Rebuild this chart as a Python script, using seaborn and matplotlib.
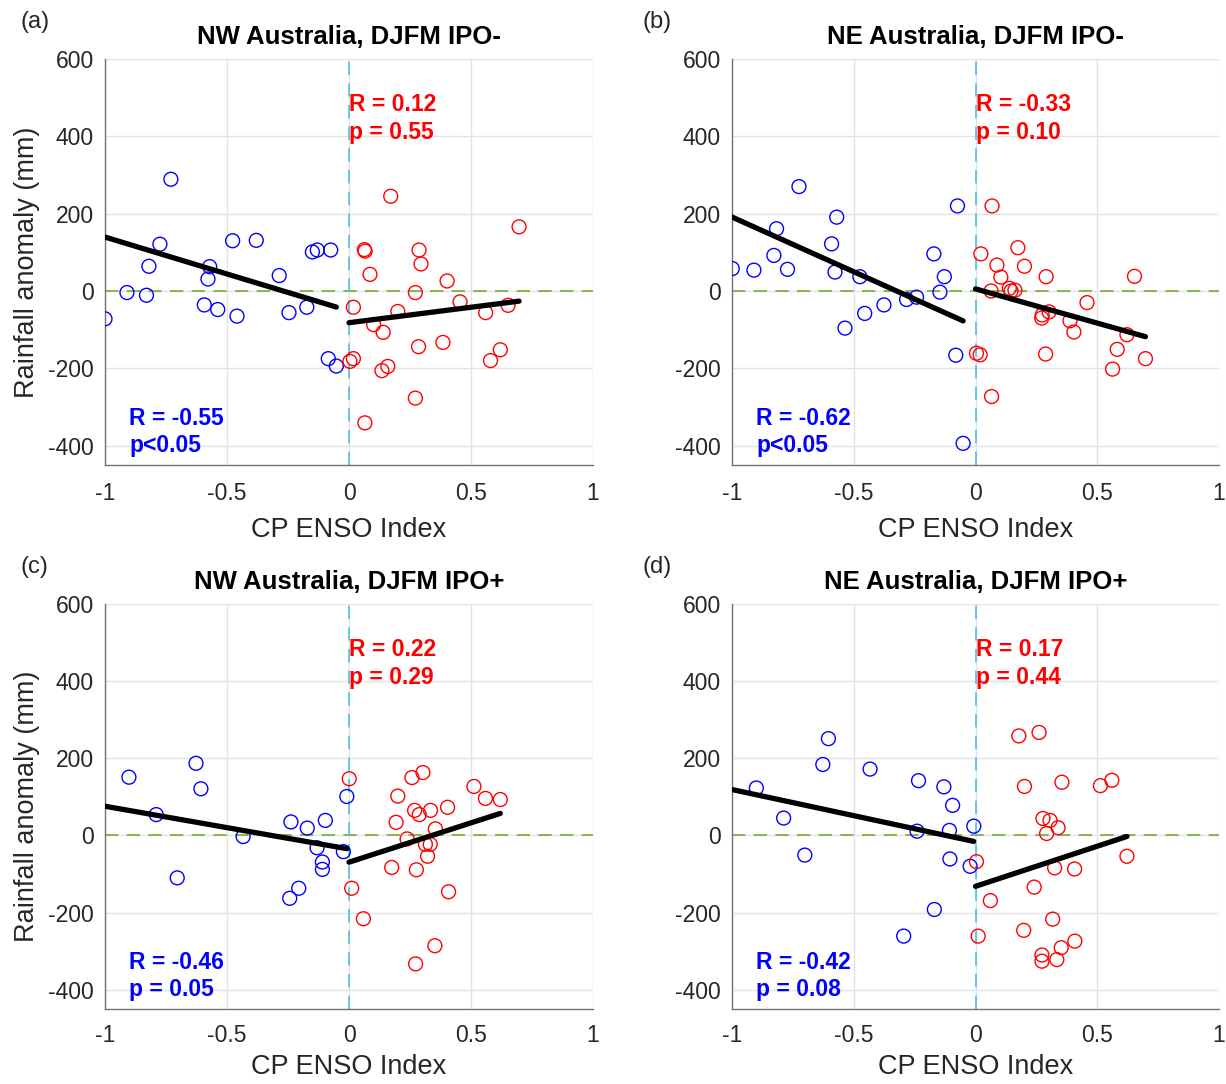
import numpy as np
import pandas as pd
import matplotlib
matplotlib.use("Agg")
import matplotlib.pyplot as plt
import seaborn as sns

sns.set_style("white")
plt.rcParams['font.family'] = ['Liberation Sans', 'DejaVu Sans']
plt.rcParams['axes.unicode_minus'] = False

# ---------------- data ----------------
# (a) NW Australia, DJFM IPO-
a_neg_x = [-1.0, -0.91, -0.83, -0.82, -0.775, -0.73, -0.571, -0.578, -0.593, -0.538, -0.477,
           -0.459, -0.38, -0.286, -0.246, -0.173, -0.15, -0.13, -0.075, -0.085, -0.052]
a_neg_y = [-72, -4, -11, 64, 121, 289, 63, 31, -36, -48, 130,
           -65, 131, 40, -56, -42, 101, 106, 106, -175, -194]
a_pos_x = [0.171, 0.697, 0.063, 0.066, 0.287, 0.295, 0.086, 0.402, 0.272, 0.018, 0.2, 0.455, 0.56,
           0.652, 0.101, 0.14, 0.285, 0.385, 0.62, 0.58, 0.018, 0.004, 0.159, 0.135, 0.272, 0.065]
a_pos_y = [245, 166, 107, 103, 106, 70, 43, 26, -4, -42, -53, -28, -56,
           -37, -87, -107, -144, -133, -152, -180, -175, -182, -195, -206, -277, -341]

# (b) NE Australia, DJFM IPO-
b_neg_x = [-0.999, -0.91, -0.828, -0.817, -0.772, -0.725, -0.591, -0.57, -0.577, -0.536, -0.475,
           -0.455, -0.376, -0.283, -0.242, -0.171, -0.128, -0.146, -0.074, -0.081, -0.051]
b_neg_y = [58, 54, 92, 161, 56, 270, 122, 191, 49, -96, 37,
           -58, -36, -22, -16, 96, 37, -3, 220, -166, -394]
b_pos_x = [0.068, 0.022, 0.174, 0.088, 0.201, 0.104, 0.29, 0.653, 0.064, 0.139, 0.146, 0.162, 0.458,
           0.302, 0.274, 0.272, 0.388, 0.404, 0.622, 0.004, 0.019, 0.288, 0.582, 0.698, 0.563, 0.066]
b_pos_y = [220, 96, 112, 67, 64, 36, 37, 38, 0, 7, 0, 2, -30,
           -54, -62, -70, -77, -106, -113, -161, -165, -163, -151, -175, -202, -273]

# (c) NW Australia, DJFM IPO+
c_neg_x = [-0.902, -0.627, -0.607, -0.79, -0.434, -0.704, -0.238, -0.171,
           -0.097, -0.131, -0.109, -0.109, -0.009, -0.023, -0.206, -0.243]
c_neg_y = [151, 187, 121, 54, -3, -110, 35, 19,
           39, -32, -69, -88, 101, -42, -137, -163]
c_pos_x = [0.001, 0.303, 0.258, 0.512, 0.2, 0.559, 0.62, 0.269, 0.288, 0.334, 0.404, 0.193,
           0.354, 0.238, 0.313, 0.333, 0.322, 0.175, 0.276, 0.011, 0.408, 0.059, 0.352, 0.273]
c_pos_y = [147, 163, 150, 127, 102, 96, 93, 65, 54, 65, 73, 34,
           17, -9, -23, -23, -54, -83, -89, -137, -146, -216, -286, -333]

# (d) NE Australia, DJFM IPO+
d_neg_x = [-0.604, -0.627, -0.433, -0.9, -0.234, -0.13, -0.094, -0.788,
           -0.24, -0.107, -0.007, -0.701, -0.105, -0.022, -0.169, -0.295]
d_neg_y = [251, 184, 172, 123, 142, 126, 78, 45,
           11, 13, 24, -51, -61, -80, -192, -261]
d_pos_x = [0.178, 0.261, 0.201, 0.355, 0.513, 0.56, 0.277, 0.306, 0.339, 0.292, 0.004, 0.622,
           0.325, 0.407, 0.241, 0.061, 0.317, 0.198, 0.011, 0.408, 0.352, 0.273, 0.273, 0.334]
d_pos_y = [258, 267, 127, 138, 129, 143, 44, 39, 20, 5, -68, -54,
           -84, -87, -134, -169, -217, -246, -261, -274, -291, -310, -326, -322]

# regression fits shown in the figure (slope, intercept)
fit_neg_slope = [-191, -283, -111, -135.5]
fit_neg_icpt = [-51.5, -91.7, -35.3, -16.5]
fit_pos_slope = [80, -177, 204, 208]
fit_pos_icpt = [-82, 5.5, -69.4, -132]

titles = ["NW Australia, DJFM IPO-", "NE Australia, DJFM IPO-",
          "NW Australia, DJFM IPO+", "NE Australia, DJFM IPO+"]
panel_labels = ["(a)", "(b)", "(c)", "(d)"]
r_pos = ["R = 0.12", "R = -0.33", "R = 0.22", "R = 0.17"]
p_pos = ["p = 0.55", "p = 0.10", "p = 0.29", "p = 0.44"]
r_neg = ["R = -0.55", "R = -0.62", "R = -0.46", "R = -0.42"]
p_neg = ["p<0.05", "p<0.05", "p = 0.05", "p = 0.08"]
x_ticks = [-1, -0.5, 0, 0.5, 1]
x_ticklabels = ["-1", "-0.5", "0", "0.5", "1"]
y_ticks = [-400, -200, 0, 200, 400, 600]

panels = [
    (a_neg_x, a_neg_y, a_pos_x, a_pos_y),
    (b_neg_x, b_neg_y, b_pos_x, b_pos_y),
    (c_neg_x, c_neg_y, c_pos_x, c_pos_y),
    (d_neg_x, d_neg_y, d_pos_x, d_pos_y),
]

# ---------------- figure ----------------
W, H = 1226, 1084
fig = plt.figure(figsize=(W / 100, H / 100), dpi=100)

# axes rectangles in pixels: left, top, right, bottom
rects = [(105, 59, 593, 465), (732, 59, 1219, 465),
         (105, 604, 593, 1009), (732, 604, 1219, 1009)]
label_px = [(20, 22), (643, 22), (20, 567), (643, 567)]

axcol = (0.15, 0.15, 0.15)
zero_green = (0.47, 0.67, 0.19)
cyan = (0.30, 0.75, 0.93)

for i, (nx, ny, px, py) in enumerate(panels):
    l, t, r, b = rects[i]
    ax = fig.add_axes([l / W, 1 - b / H, (r - l) / W, (b - t) / H])
    ax.set_xlim(-1, 1)
    ax.set_ylim(-450, 600)

    ax.axhline(0, color=zero_green, lw=1.2, ls=(0, (8, 5)), zorder=1)
    ax.axvline(0, color=cyan, lw=1.2, ls=(0, (8, 5)), zorder=1)

    dneg = pd.DataFrame({"x": nx, "y": ny})
    dpos = pd.DataFrame({"x": px, "y": py})
    sns.scatterplot(data=dneg, x="x", y="y", ax=ax, marker="o", s=100,
                    facecolors="none", edgecolor="blue", linewidth=1.0, zorder=3)
    sns.scatterplot(data=dpos, x="x", y="y", ax=ax, marker="o", s=100,
                    facecolors="none", edgecolor="red", linewidth=1.0, zorder=3)

    # fitted lines: negative branch over [-1, max x], positive over [0, max x]
    xn = np.array([-1.0, max(nx)])
    xp = np.array([0.0, max(px)])
    fn = pd.DataFrame({"x": xn, "y": fit_neg_slope[i] * xn + fit_neg_icpt[i]})
    fp = pd.DataFrame({"x": xp, "y": fit_pos_slope[i] * xp + fit_pos_icpt[i]})
    sns.lineplot(data=fn, x="x", y="y", ax=ax, color="black", lw=3.8, zorder=4)
    sns.lineplot(data=fp, x="x", y="y", ax=ax, color="black", lw=3.8, zorder=4)

    ax.set_xticks(x_ticks)
    ax.set_xticklabels(x_ticklabels)
    ax.set_yticks(y_ticks)
    ax.grid(True, color=(0.89, 0.89, 0.89), lw=1.0, zorder=0)
    ax.set_axisbelow(True)
    ax.tick_params(direction="in", length=5, width=0.8, colors=axcol,
                   labelsize=16.5, pad=12 if i < 2 else 11)
    ax.tick_params(axis="y", pad=8)
    for side in ["top", "right"]:
        ax.spines[side].set_visible(False)
    for side in ["left", "bottom"]:
        ax.spines[side].set_color((0.45, 0.45, 0.45))
        ax.spines[side].set_linewidth(1.0)

    ax.set_xlabel("CP ENSO Index", fontsize=19.5, color=axcol,
                  labelpad=9 if i < 2 else 5)
    if i % 2 == 0:
        ax.set_ylabel("Rainfall anomaly (mm)", fontsize=19.5, color=axcol, labelpad=6)
    else:
        ax.set_ylabel("")
    ax.set_title(titles[i], fontsize=18.5, fontweight="bold", color="black", pad=11)

    ax.text(0.0, 482, r_pos[i], color="red", fontsize=16.5, fontweight="bold",
            ha="left", va="center", zorder=5)
    ax.text(0.0, 410, p_pos[i], color="red", fontsize=16.5, fontweight="bold",
            ha="left", va="center", zorder=5)
    ax.text(-0.9, -330, r_neg[i], color="blue", fontsize=16.5, fontweight="bold",
            ha="left", va="center", zorder=5)
    ax.text(-0.9, -400, p_neg[i], color="blue", fontsize=16.5, fontweight="bold",
            ha="left", va="center", zorder=5)

    lx, ly = label_px[i]
    fig.text(lx / W, 1 - ly / H, panel_labels[i], fontsize=17, color=axcol,
             ha="left", va="center")

fig.savefig("out.png", dpi=100)
